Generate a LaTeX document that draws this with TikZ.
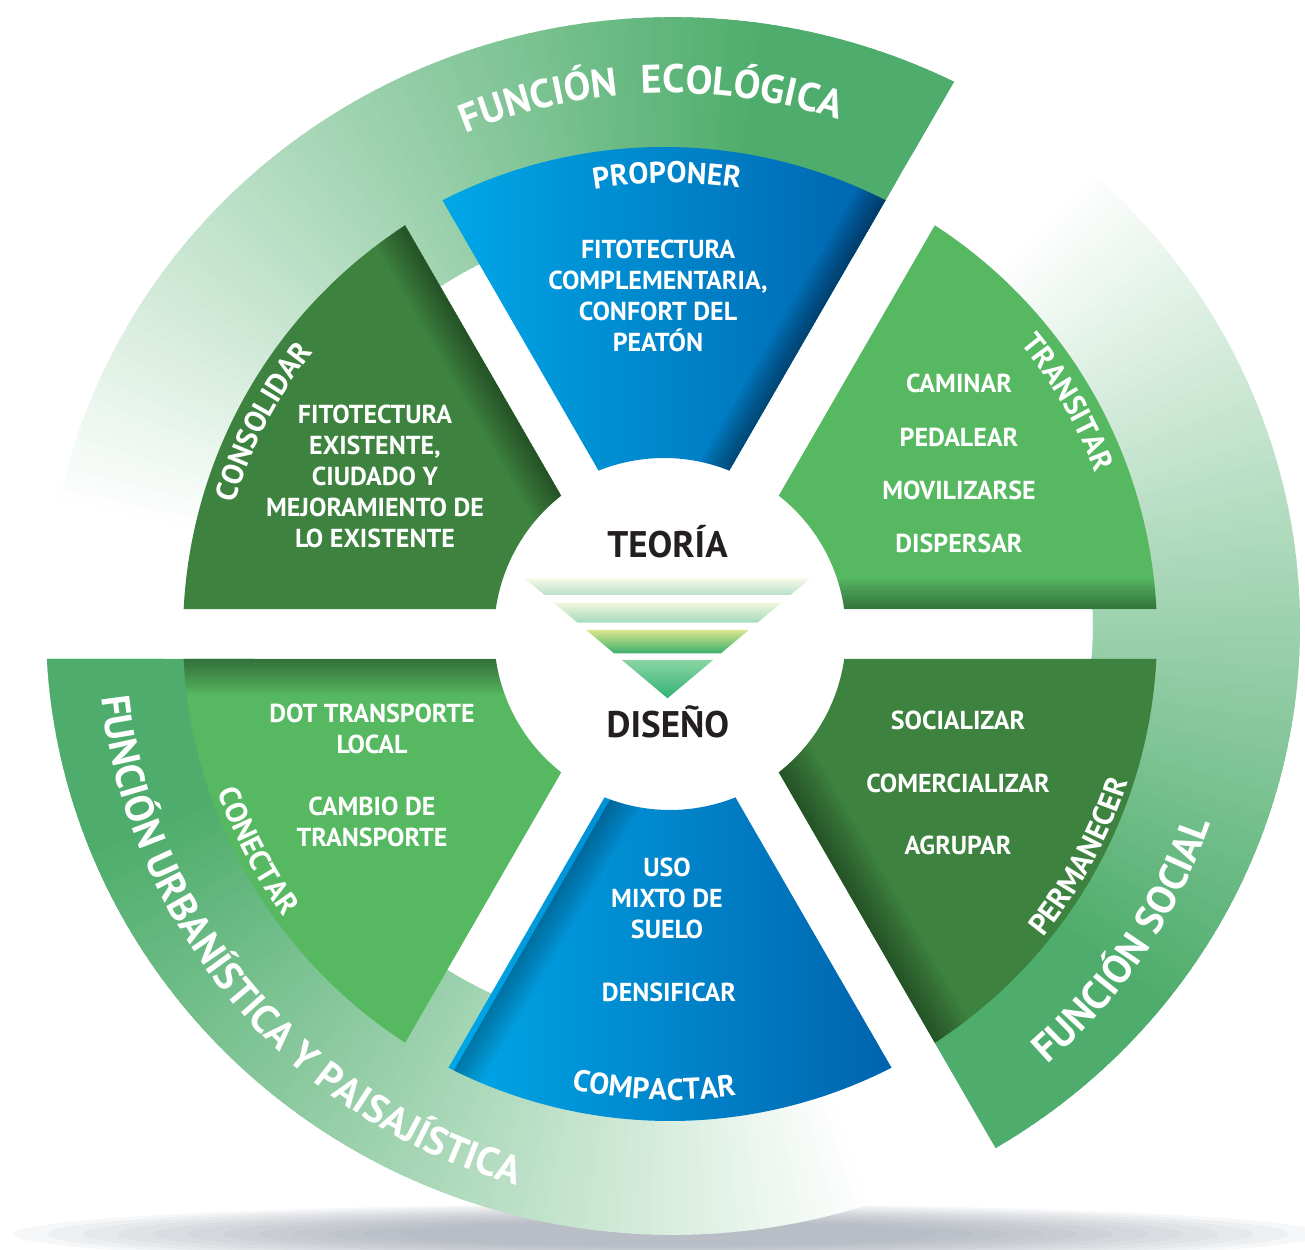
\documentclass[tikz,border=0pt]{standalone}
\usepackage{fontspec}
\setmainfont{PT Sans}
\usetikzlibrary{decorations.text}
\definecolor{ringg}{HTML}{4EAD6C}
\definecolor{dkg}{HTML}{3D823F}
\definecolor{ltg}{HTML}{57B862}
\definecolor{blueL}{HTML}{00A8E8}
\definecolor{blueR}{HTML}{0063AE}
\definecolor{txtk}{HTML}{231F20}
\definecolor{shadowc}{HTML}{8E96A3}
\definecolor{sat}{HTML}{F6F9E8}\definecolor{sab}{HTML}{B9E1C9}
\definecolor{sbt}{HTML}{F0F6DC}\definecolor{sbb}{HTML}{A6DABD}
\definecolor{sct}{HTML}{D9E68E}\definecolor{scb}{HTML}{3AAF6D}
\definecolor{sdt}{HTML}{8AD5A2}\definecolor{sdb}{HTML}{31B176}

\newcommand\bodyfont{\fontsize{26}{31}\selectfont\bfseries}
\newcommand\lblfont{\fontsize{30}{30}\selectfont\bfseries}
\newcommand\funfont{\fontsize{40}{40}\selectfont\bfseries}
\newcommand\bigfont{\fontsize{37}{37}\selectfont\bfseries}

% annular sector with straight gap edges (half gap 25)
\newcommand\sectorpath[2]{({#1+2.942}:487pt) arc[start angle={#1+2.942}, end angle={#2-2.942}, radius=487pt] -- ({#2-8.166}:176pt) arc[start angle={#2-8.166}, end angle={#1+8.166}, radius=176pt] -- cycle}

% outer ring piece: start angle, x-shift of the start edge (edge shared with a sector)
\newcommand\ringpiece[2]{%
 \begin{scope}
  \clip[xshift=#2] ({#1+asin(25/300)}:300pt) -- ({#1+asin(25/800)}:800pt) arc[start angle={#1+asin(25/800)}, end angle={#1+150}, radius=800pt] -- ({#1+150}:300pt) arc[start angle={#1+150}, end angle={#1+asin(25/300)}, radius=300pt] -- cycle;
  \begin{scope}[shift={(3,8)}, yscale=0.971]
  \foreach \t in {-6,-5,...,108} {
    \pgfmathsetmacro\p{min(100,max(0,1.15*(108-\t)))}
    \pgfmathsetmacro\aa{#1+\t}
    \pgfmathsetmacro\bb{#1+\t+1.8}
    \fill[ringg!\p!white] (\aa:420pt) arc[start angle=\aa, end angle=\bb, radius=420pt] -- (\bb:627pt) arc[start angle=\bb, end angle=\aa, radius=627pt] -- cycle;
  }
  \end{scope}
 \end{scope}}

% fold shadow along the start edge of a sector: angle, width, offset, opacity
\newcommand\edgeshade[4]{%
 \begin{scope}
  \clip \sectorpath{#1}{#1+60};
  \begin{scope}[rotate=#1]
   \foreach \k in {1,...,12} {\fill[black, opacity=#4] (150,{25+#3}) rectangle (500,{25+#3+\k*#2/12});}
  \end{scope}
 \end{scope}}

% text along an arc: font, radius, start, end, text
\newcommand\arclabel[5]{%
 \path[decorate, decoration={text along path, text={|#1\color{white}|#5}, text align=center}] ({#3}:#2pt) arc[start angle={#3}, end angle={#4}, radius=#2pt];}

\tikzset{
  body/.style={text=white, font=\bodyfont, align=center, inner sep=0pt},
  bigtxt/.style={text=txtk, font=\bigfont, inner sep=0pt, anchor=base}
}

\begin{document}
\begin{tikzpicture}[x=1pt,y=1pt]
\useasboundingbox (-670,-615) rectangle (635,634);

% ground shadow
\foreach \k in {0,...,11} {
  \pgfmathsetmacro\rx{655-\k*35}
  \pgfmathsetmacro\ry{30-\k*1.6}
  \fill[shadowc, opacity=0.08] (-2,-600) ellipse[x radius=\rx pt, y radius=\ry pt];
}

% outer rings
\ringpiece{60}{-6pt}
\ringpiece{300}{0pt}
\ringpiece{180}{0pt}

% sectors
\fill[ltg] \sectorpath{0}{60};
\fill[dkg] \sectorpath{120}{180};
\fill[ltg] \sectorpath{180}{240};
\fill[dkg] \sectorpath{300}{360};
\begin{scope}[xshift=-6pt]
  \shade[left color=blueL, right color=blueR] \sectorpath{60}{120};
  \edgeshade{60}{30}{0}{0.035}
\end{scope}
\shade[left color=blueL, right color=blueR] \sectorpath{240}{300};

\edgeshade{0}{30}{0}{0.03}
\edgeshade{120}{35}{0}{0.03}
\edgeshade{180}{35}{0}{0.035}
\edgeshade{240}{30}{6}{0.025}
\edgeshade{300}{40}{0}{0.03}

% centre triangle
\shade[top color=sat, bottom color=sab] (-145.7,55.7) -- (140.7,55.7) -- (120.4,39) -- (-125.4,39) -- cycle;
\shade[top color=sbt, bottom color=sbb] (-116.3,31.3) -- (111.3,31.3) -- (87.5,11.3) -- (-92.5,11.3) -- cycle;
\shade[top color=sct, bottom color=scb] (-83.8,4) -- (78.8,4) -- (51,-19.3) -- (-56,-19.3) -- cycle;
\shade[top color=sdt, bottom color=sdb] (-48.1,-26) -- (43.1,-26) -- (-2.5,-64.3) -- cycle;

\node[bigtxt] (teoria) at (-2.5,76.3) {TEORÍA};
\node[bigtxt] (diseno) at (-2,-103.3) {DISEÑO};

% ring labels
\arclabel{\funfont}{541}{128.8}{78.8}{FUNCIÓN}
\arclabel{\funfont}{541}{112.4}{52.4}{ECOLÓGICA}
\arclabel{\funfont}{573}{-64}{-4}{FUNCIÓN SOCIAL}
\arclabel{\funfont}{572}{160.4}{280.4}{FUNCIÓN URBANÍSTICA Y PAISAJÍSTICA}

% sector labels
\arclabel{\lblfont}{451}{120.4}{60.4}{PROPONER}
\arclabel{\lblfont}{466}{238}{298}{COMPACTAR}
\arclabel{\lblfont}{455}{182.5}{122.5}{CONSOLIDAR}
\arclabel{\lblfont}{455}{60.2}{0.2}{TRANSITAR}
\arclabel{\lblfont}{479}{177.7}{237.7}{CONECTAR}
\arclabel{\lblfont}{481}{-58.5}{1.5}{PERMANECER}

% body texts
\node[body] (b1) at (-12,338) {FITOTECTURA\\COMPLEMENTARIA,\\CONFORT DEL\\PEATÓN};
\node[body] (b2) at (-295,158) {FITOTECTURA\\EXISTENTE,\\CIUDADO Y\\MEJORAMIENTO DE\\LO EXISTENTE};
\node[body] (t1) at (289,251) {CAMINAR};
\node[body] (t2) at (289,197) {PEDALEAR};
\node[body] (t3) at (289,144) {MOVILIZARSE};
\node[body] (t4) at (289,91) {DISPERSAR};
\node[body] (c1) at (-298,-94.5) {DOT TRANSPORTE\\LOCAL};
\node[body] (c2) at (-298,-187.5) {CAMBIO DE\\TRANSPORTE};
\node[body] (u1) at (-3,-264) {USO\\MIXTO DE\\SUELO};
\node[body] (u2) at (-1,-358) {DENSIFICAR};
\node[body] (p1) at (288,-86) {SOCIALIZAR};
\node[body] (p2) at (288,-149) {COMERCIALIZAR};
\node[body] (p3) at (288,-211) {AGRUPAR};
\end{tikzpicture}
\end{document}
